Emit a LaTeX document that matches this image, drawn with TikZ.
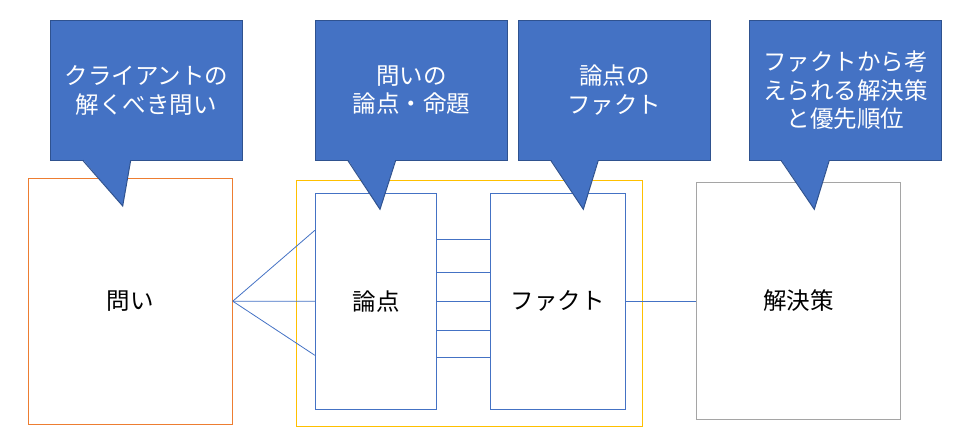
\documentclass[tikz,border=0pt]{standalone}
\usepackage{fontspec}
\newfontfamily\jp{Noto Sans CJK JP}
\definecolor{cfill}{HTML}{4472C4}
\definecolor{cline}{HTML}{2F528F}
\definecolor{corange}{HTML}{ED7D31}
\definecolor{cyellow}{HTML}{FFC000}
\definecolor{cgray}{HTML}{A5A5A5}
\definecolor{cblue}{HTML}{4472C4}
\begin{document}
\begin{tikzpicture}[x=1pt,y=-1pt,
  box/.style={draw, line width=0.9pt, fill=white, inner sep=0pt, align=center,
    font=\jp\fontsize{23.5}{28.5}\selectfont},
  callout/.style={draw=cline, fill=cfill, line width=1pt, inner sep=0pt, align=center,
    text=white, minimum width=192.4pt, minimum height=140pt,
    font=\jp\fontsize{23.5}{28.5}\selectfont},
  tailfill/.style={fill=cfill},
  tailline/.style={draw=cline, line width=1pt, line join=miter},
  conn/.style={draw=cblue, line width=0.8pt}]
\useasboundingbox (0,0) rectangle (966,429);

% boxes
\node[box, draw=cyellow, minimum width=346pt, minimum height=246pt] (grp) at (469.3,303.3) {};
\node[box, draw=corange, minimum width=204pt, minimum height=245.7pt] (toi) at (130.3,301.2) {問い};
\node[box, draw=cblue, minimum width=121.4pt, minimum height=216pt] (ron) at (376,301.3) {論点};
\node[box, draw=cblue, minimum width=135pt, minimum height=216pt] (fact) at (557.8,301.3) {ファクト};
\node[box, draw=cgray, minimum width=204pt, minimum height=236.7pt] (sol) at (798.3,300.7) {解決策};

% connectors
\draw[conn] (toi.east) -- ([yshift=71pt]ron.west);
\draw[conn] (toi.east) -- (ron.west);
\draw[conn] (toi.east) -- ([yshift=-54pt]ron.west);
\draw[conn] ([yshift=62pt]ron.east) -- ([yshift=62pt]fact.west);
\draw[conn] ([yshift=29pt]ron.east) -- ([yshift=29pt]fact.west);
\draw[conn] (ron.east) -- (fact.west);
\draw[conn] ([yshift=-29.4pt]ron.east) -- ([yshift=-29.4pt]fact.west);
\draw[conn] ([yshift=-56pt]ron.east) -- ([yshift=-56pt]fact.west);
\draw[conn] (fact.east) -- (fact.east -| sol.west);

% callouts
\node[callout] (c1) at (146.3,90.3) {クライアントの\\解くべき問い};
\fill[tailfill] (82.7,159.4) -- (122.7,206) -- (130.7,159.4) -- cycle;
\draw[tailline] (82.7,160.3) -- (122.7,206) -- (130.7,160.3);

\node[callout] (c2) at (411.5,90.3) {問いの\\論点・命題};
\fill[tailfill] (347.7,159.4) -- (380,209.3) -- (395.7,159.4) -- cycle;
\draw[tailline] (347.7,160.3) -- (380,209.3) -- (395.7,160.3);

\node[callout] (c3) at (614.3,90.3) {論点の\\ファクト};
\fill[tailfill] (550.7,159.4) -- (583.3,209.3) -- (598.3,159.4) -- cycle;
\draw[tailline] (550.7,160.3) -- (583.3,209.3) -- (598.3,160.3);

\node[callout] (c4) at (845.5,90.3) {ファクトから考\\えられる解決策\\と優先順位};
\fill[tailfill] (781,159.4) -- (814.3,209.3) -- (829.3,159.4) -- cycle;
\draw[tailline] (781,160.3) -- (814.3,209.3) -- (829.3,160.3);
\end{tikzpicture}
\end{document}
